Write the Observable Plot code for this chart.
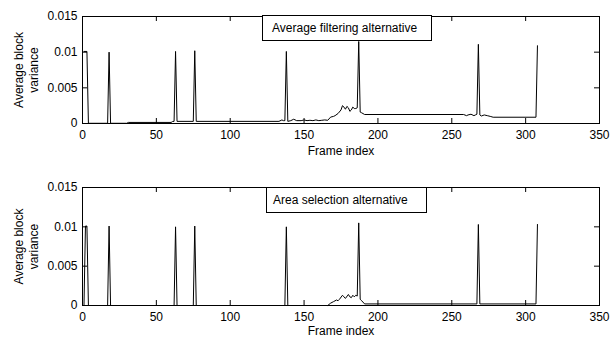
<!DOCTYPE html>
<html>
<head>
<meta charset="utf-8">
<script src="https://cdn.jsdelivr.net/npm/d3@7"></script>
<script src="https://cdn.jsdelivr.net/npm/@observablehq/plot@0.6"></script>
<style>
  html, body { margin: 0; padding: 0; background: #fff; }
  #wrap { position: relative; width: 610px; height: 338px; overflow: hidden; font-family: "Liberation Sans", Arial, sans-serif; }
  .panel { position: absolute; left: 0; width: 610px; height: 169px; }
  .note { position: absolute; box-sizing: border-box; border: 1px solid #000; background: #fff;
          font-size: 12px; color: #000; display: flex; align-items: center; white-space: nowrap; }
</style>
</head>
<body>
<div id="wrap"></div>
<script>
// ---- Data ----
const frameA = [1,3,4,17,18,19,30,31,60,61,62,63,64,75,76,77,133,135,136,137,138,139,141,143,145,148,150,152,154,156,158,160,162,164,166,168,170,171,173,175,176,177,178,179,180,181,182,183,184,185,186,187,188,189,191,258,260,261,263,265,266,267,268,269,270,272,274,276,278,307,308];
const varA   = [0.0101,0.0101,0.00003,0.00003,0.0100,0.00003,0.00003,0.00015,0.00015,0.00028,0.0003,0.0101,0.0003,0.0003,0.0102,0.0003,0.0003,0.0005,0.0004,0.0004,0.0101,0.0003,0.0004,0.0006,0.0004,0.0004,0.0005,0.0004,0.00045,0.0004,0.0005,0.0004,0.00045,0.0005,0.00045,0.0009,0.0010,0.0011,0.0014,0.0019,0.0025,0.0023,0.0020,0.0024,0.0022,0.0017,0.0019,0.0023,0.0021,0.0021,0.0022,0.0115,0.0016,0.0015,0.00126,0.00126,0.0011,0.0012,0.0013,0.0011,0.0012,0.0013,0.0111,0.0012,0.00105,0.0012,0.0011,0.0010,0.00088,0.00088,0.0109];

const frameB = [1,2,3,4,17,18,19,62,63,64,75,76,77,137,138,139,166,168,170,172,173,174,176,177,178,180,181,182,183,184,185,186,187,188,189,191,267,268,269,307,308];
const varB   = [0,0.0101,0.0101,0,0,0.0101,0,0,0.0100,0,0,0.0101,0,0,0.0100,0,0,0.0003,0.0005,0.0007,0.0006,0.0008,0.0013,0.0011,0.0009,0.0014,0.0011,0.0010,0.0013,0.0011,0.0013,0.0012,0.0105,0.0008,0.0006,0.0002,0.0002,0.0103,0.0002,0.0002,0.0103];

const xTicks = [0, 50, 100, 150, 200, 250, 300, 350];
const yTicks = [0, 0.005, 0.01, 0.015];
const panelTitles = ["Average filtering alternative", "Area selection alternative"];
const yLabel = "Average block\nvariance";
const xLabel = "Frame index";

// ---- Layout ----
const W = 610, PH = 169;
const panels = [
  {frames: frameA, values: varA, title: panelTitles[0], top: 0, mt: 16, mb: 46, xlabDy: 28,
   box: {left: 262, top: 15, width: 170, height: 26, pad: 9}},
  {frames: frameB, values: varB, title: panelTitles[1], top: 169, mt: 18, mb: 33, xlabDy: 26,
   box: {left: 266, top: 187, width: 161, height: 26, pad: 6}}
];
const ML = 82, MR = 11, TICK = 5;

const wrap = document.getElementById("wrap");

for (const p of panels) {
  const data = p.frames.map((f, i) => ({frame: f, v: p.values[i]}));
  const fh = PH - p.mt - p.mb;          // frame height
  const fw = W - ML - MR;               // frame width
  const chart = Plot.plot({
    width: W, height: PH,
    marginLeft: ML, marginRight: MR, marginTop: p.mt, marginBottom: p.mb,
    style: {fontFamily: '"Liberation Sans", Arial, sans-serif', fontSize: "12px", background: "white", color: "black", overflow: "visible"},
    x: {domain: [0, 350]},
    y: {domain: [0, 0.015]},
    marks: [
      Plot.line(data, {x: "frame", y: "v", stroke: "black", strokeWidth: 1}),
      Plot.frame({stroke: "black", strokeWidth: 1}),
      // inward ticks (MATLAB style), bottom & top
      Plot.tickX(xTicks, {x: d => d, insetTop: fh - TICK, stroke: "black"}),
      Plot.tickX(xTicks, {x: d => d, insetBottom: fh - TICK, stroke: "black"}),
      // inward ticks left & right
      Plot.tickY(yTicks, {y: d => d, insetRight: fw - TICK, stroke: "black"}),
      Plot.tickY(yTicks, {y: d => d, insetLeft: fw - TICK, stroke: "black"}),
      Plot.axisX(xTicks, {tickSize: 0, tickPadding: 7, tickFormat: d => String(d), label: null, fontSize: 12, fill: "black"}),
      Plot.axisY(yTicks, {tickSize: 0, tickPadding: 5, tickFormat: d => String(d), label: null, fontSize: 12, fill: "black"}),
      Plot.text([xLabel], {frameAnchor: "bottom", dy: p.xlabDy, lineAnchor: "middle", textAnchor: "middle", text: d => d, fontSize: 12, fill: "black"}),
      Plot.text([yLabel], {frameAnchor: "left", dx: -56.5, rotate: -90, textAnchor: "middle", lineAnchor: "middle", lineHeight: 1.25, text: d => d, fontSize: 12, fill: "black"})
    ]
  });
  const holder = document.createElement("div");
  holder.className = "panel";
  holder.style.top = p.top + "px";
  holder.appendChild(chart);
  wrap.appendChild(holder);

  const note = document.createElement("div");
  note.className = "note";
  note.style.left = p.box.left + "px";
  note.style.top = p.box.top + "px";
  note.style.width = p.box.width + "px";
  note.style.height = p.box.height + "px";
  note.style.paddingLeft = p.box.pad + "px";
  note.textContent = p.title;
  wrap.appendChild(note);
}
</script>
</body>
</html>
